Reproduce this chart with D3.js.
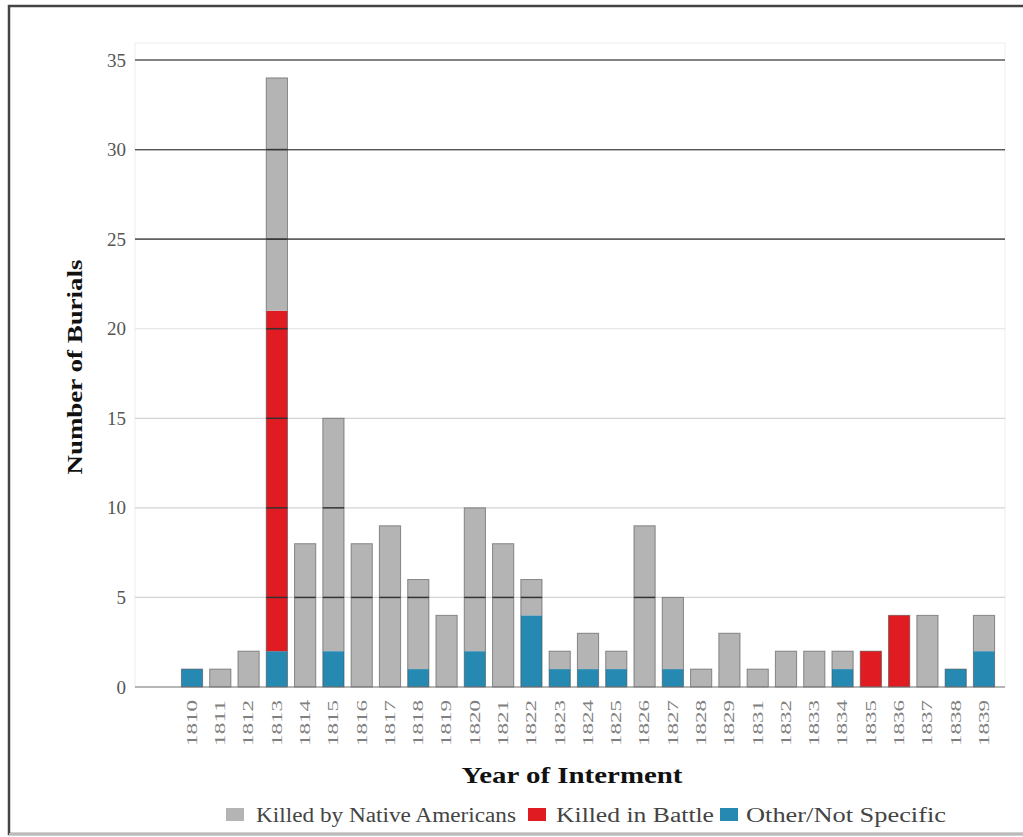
<!DOCTYPE html>
<html><head><meta charset="utf-8">
<script src="https://cdn.jsdelivr.net/npm/d3@7"></script>
<style>body{margin:0;background:#fff}svg{display:block}text{font-family:"Liberation Serif","DejaVu Serif",serif}</style>
</head><body>
<script>
const years = ["1810","1811","1812","1813","1814","1815","1816","1817","1818","1819","1820","1821","1822","1823","1824","1825","1826","1827","1828","1829","1831","1832","1833","1834","1835","1836","1837","1838","1839"];
const otherNotSpecific = [1,0,0,2,0,2,0,0,1,0,2,0,4,1,1,1,0,1,0,0,0,0,0,1,0,0,0,1,2];
const killedInBattle   = [0,0,0,19,0,0,0,0,0,0,0,0,0,0,0,0,0,0,0,0,0,0,0,0,2,4,0,0,0];
const killedByNative   = [0,1,2,13,8,13,8,9,5,4,8,8,2,1,2,1,9,4,1,3,1,2,2,1,0,0,4,0,2];
const yTicks = [0,5,10,15,20,25,30,35];
const seriesNames = ["Other/Not Specific","Killed in Battle","Killed by Native Americans"];
const colors = {"Other/Not Specific":"#2589b2","Killed in Battle":"#e01b22","Killed by Native Americans":"#b4b4b4"};
const legendOrder = ["Killed by Native Americans","Killed in Battle","Other/Not Specific"];

const W=1023,H=837;
const svg=d3.select("body").append("svg").attr("width",W).attr("height",H);
// frame
svg.append("rect").attr("x",9).attr("y",6).attr("width",1030).attr("height",828)
  .attr("fill","none").attr("stroke","#444").attr("stroke-width",2.5);
svg.append("line").attr("x1",9).attr("x2",W).attr("y1",834).attr("y2",834).attr("stroke","#bbb").attr("stroke-width",2);

const pLeft=135,pRight=1005,pTop=43,pBottom=687;
const x=d3.scaleBand().domain(years).range([178,998]).paddingInner(0.25).paddingOuter(0.12);
const y=d3.scaleLinear().domain([0,35]).range([pBottom,60]);

// plot box
svg.append("rect").attr("x",pLeft).attr("y",pTop).attr("width",pRight-pLeft).attr("height",pBottom-pTop)
  .attr("fill","none").attr("stroke","#eee");

const table=years.map((yr,i)=>({year:yr,"Other/Not Specific":otherNotSpecific[i],"Killed in Battle":killedInBattle[i],"Killed by Native Americans":killedByNative[i]}));
const stack=d3.stack().keys(seriesNames)(table);
const total=d=>d["Other/Not Specific"]+d["Killed in Battle"]+d["Killed by Native Americans"];

// gridlines (behind)
svg.append("g").selectAll("line").data(yTicks.filter(v=>v>0)).join("line")
  .attr("x1",pLeft).attr("x2",pRight).attr("y1",d=>y(d)).attr("y2",d=>y(d))
  .attr("stroke",d=>d>=25?"#666":(d===20?"#e8e8e8":"#d4d4d4")).attr("stroke-width",1.2);

// bars
const g=svg.append("g");
stack.forEach(s=>{
  g.append("g").selectAll("rect").data(s.filter(d=>d[1]-d[0]>0)).join("rect")
    .attr("x",d=>x(d.data.year)).attr("width",x.bandwidth())
    .attr("y",d=>y(d[1])).attr("height",d=>y(d[0])-y(d[1]))
    .attr("fill",colors[s.key]);
});
// outline on totals
g.append("g").selectAll("rect").data(table).join("rect")
  .attr("x",d=>x(d.year)).attr("width",x.bandwidth())
  .attr("y",d=>y(total(d))).attr("height",d=>pBottom-y(total(d)))
  .attr("fill","none").attr("stroke","rgba(70,70,70,0.55)");

// gridlines drawn over bars
svg.append("g").selectAll("line").data(yTicks.filter(v=>v>=25)).join("line")
  .attr("x1",pLeft).attr("x2",pRight).attr("y1",d=>y(d)).attr("y2",d=>y(d))
  .attr("stroke","#555").attr("stroke-width",1.2);
table.forEach(d=>{
  const tot=total(d);
  yTicks.filter(v=>v>0 && v<tot).forEach(v=>{
    svg.append("line").attr("x1",x(d.year)).attr("x2",x(d.year)+x.bandwidth())
      .attr("y1",y(v)).attr("y2",y(v)).attr("stroke","#333").attr("stroke-width",1.5);
  });
});

// y axis
const yAxis=svg.append("g").attr("transform",`translate(${pLeft},0)`)
  .call(d3.axisLeft(y).tickValues(yTicks).tickSize(0).tickPadding(9));
yAxis.select(".domain").remove();
yAxis.attr("font-family",null);
yAxis.selectAll("text").attr("font-size",19).attr("fill","#555");

// x axis line
svg.append("line").attr("x1",pLeft).attr("x2",pRight).attr("y1",pBottom).attr("y2",pBottom).attr("stroke","#777").attr("stroke-width",1.2);
const xAxis=svg.append("g").attr("transform",`translate(0,${pBottom})`)
  .call(d3.axisBottom(x).tickSize(0));
xAxis.select(".domain").remove();
xAxis.attr("font-family",null);
xAxis.selectAll("text").attr("font-size",14).attr("fill","#808080")
  .attr("text-anchor","end").attr("dy","0.35em").attr("transform","translate(0,13) rotate(-90)").attr("x",0).attr("y",0)
  .attr("textLength",46).attr("lengthAdjust","spacingAndGlyphs");

// titles
svg.append("text").attr("transform","translate(82,367) rotate(-90)").attr("text-anchor","middle")
  .attr("font-weight","bold").attr("font-size",22).attr("fill","#111")
  .attr("textLength",215).attr("lengthAdjust","spacingAndGlyphs")
  .text("Number of Burials");
svg.append("text").attr("x",572).attr("y",783).attr("text-anchor","middle")
  .attr("font-weight","bold").attr("font-size",24).attr("fill","#111")
  .attr("textLength",221).attr("lengthAdjust","spacingAndGlyphs")
  .text("Year of Interment");

// legend
const legSq=[226,528,720];
const legTx=[256,556,746];
const legLen=[260,158,200];
const lg=svg.append("g");
legendOrder.forEach((k,i)=>{
  lg.append("rect").attr("x",legSq[i]).attr("y",808).attr("width",18).attr("height",13).attr("fill",colors[k]);
  lg.append("text").attr("x",legTx[i]).attr("y",822)
    .attr("font-size",20).attr("fill","#444")
    .attr("textLength",legLen[i]).attr("lengthAdjust","spacingAndGlyphs").text(k);
});
</script>
</body></html>
